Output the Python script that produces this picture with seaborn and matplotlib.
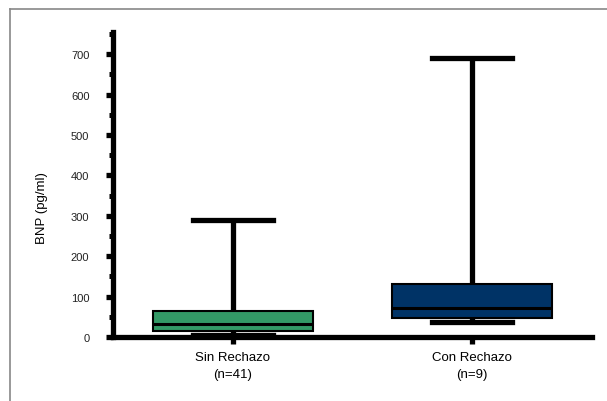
import numpy as np
import pandas as pd
import matplotlib
matplotlib.use("Agg")
import matplotlib.pyplot as plt
from matplotlib.lines import Line2D
from matplotlib.ticker import MultipleLocator, FixedLocator
import seaborn as sns

# ---- data (five-number summaries) ----
groups = ["Sin Rechazo\n(n=41)", "Con Rechazo\n(n=9)"]
mins = [5, 38]
q1s = [14, 46]
medians = [32, 71]
q3s = [65, 131]
maxs = [290, 690]
colors = ["#339966", "#003366"]
y_ticks = [0, 100, 200, 300, 400, 500, 600, 700]

rows = []
for g, a, b, c, d, e in zip(groups, mins, q1s, medians, q3s, maxs):
    for v in (a, b, c, d, e):
        rows.append({"grupo": g, "BNP": v})
df = pd.DataFrame(rows)

plt.rcParams["font.family"] = ["Liberation Sans", "DejaVu Sans"]

fig = plt.figure(figsize=(6.07, 4.02), dpi=100)
fig.patch.set_facecolor("white")
ax = fig.add_axes([113 / 607, 64 / 402, (592 - 113) / 607, (338 - 33) / 402])

sns.boxplot(
    data=df, x="grupo", y="BNP", hue="grupo", order=groups, hue_order=groups,
    palette=colors, saturation=1, whis=(0, 100), width=0.67,
    linecolor="black", linewidth=1.5, legend=False, ax=ax,
    whiskerprops=dict(linewidth=3.8), capprops=dict(linewidth=3.8),
    medianprops=dict(linewidth=2.2),
)

ax.set_xlim(-0.5, 1.5)
ax.set_ylim(0, 755)
ax.yaxis.set_major_locator(FixedLocator(y_ticks))
ax.yaxis.set_minor_locator(MultipleLocator(50))

for s in ["top", "right"]:
    ax.spines[s].set_visible(False)
for s in ["left", "bottom"]:
    ax.spines[s].set_linewidth(3.8)
    ax.spines[s].set_color("black")

ax.tick_params(axis="y", which="major", length=5, width=3.8, direction="out",
               pad=12, labelsize=8, labelcolor="#222222", color="black")
ax.tick_params(axis="y", which="minor", length=3.2, width=3.6, direction="out",
               color="black")
ax.tick_params(axis="x", which="major", length=5, width=3.8, direction="out",
               pad=5, labelsize=9.5, color="black")
for lbl in ax.get_xticklabels():
    lbl.set_linespacing(1.6)

ax.set_xlabel("")
ax.set_ylabel("BNP (pg/ml)", fontsize=9.5)
ax.yaxis.set_label_coords(-0.135, 0.426)

# figure frame (gray border on the left and top)
fig.add_artist(Line2D([10 / 607, 10 / 607], [0, 1 - 10 / 402], transform=fig.transFigure,
                      color="#888888", lw=1.2))
fig.add_artist(Line2D([10 / 607, 1], [1 - 10 / 402, 1 - 10 / 402], transform=fig.transFigure,
                      color="#888888", lw=1.2))

fig.savefig("out.png", dpi=100, facecolor="white")
